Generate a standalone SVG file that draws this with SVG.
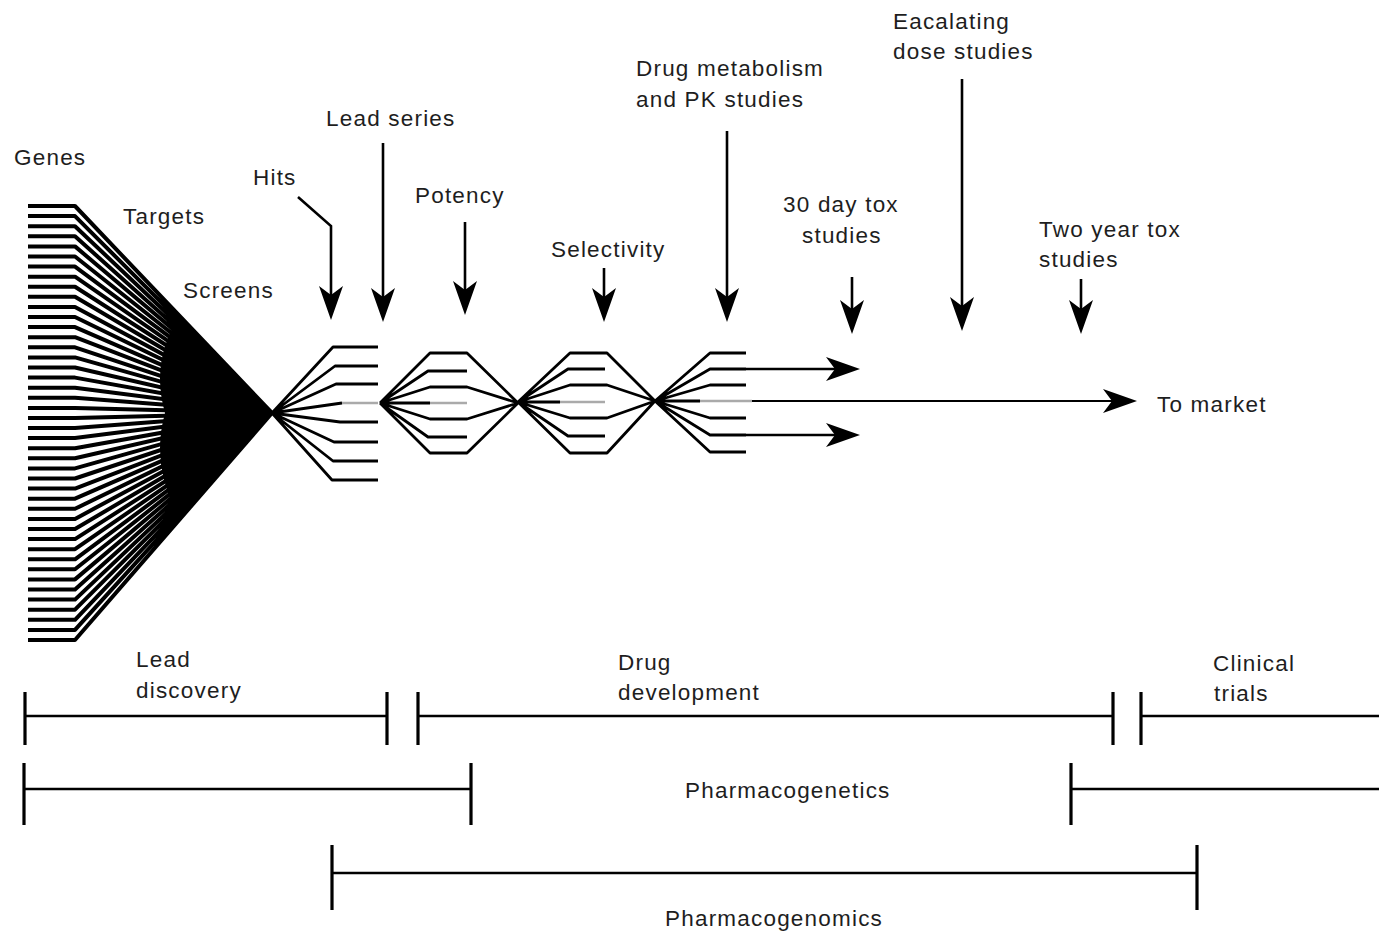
<svg xmlns="http://www.w3.org/2000/svg" width="1379" height="934" viewBox="0 0 1379 934">
<defs>
<marker id="ah" viewBox="0 0 34 24" markerUnits="userSpaceOnUse" markerWidth="34" markerHeight="24" refX="28" refY="12" orient="auto">
<path d="M0,0 L34,12 L0,24 L9,12 Z" fill="#000"/>
</marker>
</defs>
<style>
text{font-family:"Liberation Sans",Arial,sans-serif;font-size:22.5px;letter-spacing:1.2px;fill:#1e1e1e}
.fan{fill:none;stroke:#000;stroke-width:4;stroke-linejoin:round;stroke-linecap:butt}
.dia{fill:none;stroke:#000;stroke-width:2.8;stroke-linejoin:round}
.arr{fill:none;stroke:#000;stroke-width:2.6;marker-end:url(#ah)}
.bar{fill:none;stroke:#000;stroke-width:2.4}
.tick{fill:none;stroke:#000;stroke-width:3.2}
.gray{fill:none;stroke:#aaa;stroke-width:2.6}
</style>
<rect width="1379" height="934" fill="#fff"/>

<g id="funnel">
<path class="fan" d="M28,206 H75 L272,413 M28,216.1 H75 L272,413 M28,226.2 H75 L272,413 M28,236.3 H75 L272,413 M28,246.4 H75 L272,413 M28,256.5 H75 L272,413 M28,266.6 H75 L272,413 M28,276.7 H75 L272,413 M28,286.7 H75 L272,413 M28,296.8 H75 L272,413 M28,306.9 H75 L272,413 M28,317 H75 L272,413 M28,327.1 H75 L272,413 M28,337.2 H75 L272,413 M28,347.3 H75 L272,413 M28,357.4 H75 L272,413 M28,367.5 H75 L272,413 M28,377.6 H75 L272,413 M28,387.7 H75 L272,413 M28,397.8 H75 L272,413 M28,407.9 H75 L272,413 M28,418 H75 L272,413 M28,428 H75 L272,413 M28,438.1 H75 L272,413 M28,448.2 H75 L272,413 M28,458.3 H75 L272,413 M28,468.4 H75 L272,413 M28,478.5 H75 L272,413 M28,488.6 H75 L272,413 M28,498.7 H75 L272,413 M28,508.8 H75 L272,413 M28,518.9 H75 L272,413 M28,529 H75 L272,413 M28,539.1 H75 L272,413 M28,549.2 H75 L272,413 M28,559.3 H75 L272,413 M28,569.3 H75 L272,413 M28,579.4 H75 L272,413 M28,589.5 H75 L272,413 M28,599.6 H75 L272,413 M28,609.7 H75 L272,413 M28,619.8 H75 L272,413 M28,629.9 H75 L272,413 M28,640 H75 L272,413"/>
<path fill="#000" d="M272,413 L180,316 Q150,360 165,413 Q150,466 180,519 Z"/>
</g>

<g id="lead-fan">
<path class="dia" d="M272,413 L333,347 H378 M272,413 L335,366 H378 M272,413 L336,384 H378 M272,413 L342,403 M272,413 L340,422 H378 M272,413 L334,442 H378 M272,413 L333,461 H378 M272,413 L332,480 H378"/>
<path class="gray" d="M342,403 H378"/>
</g>

<g id="potency-diamond">
<path class="dia" d="M380,403 L430,353 H467 L518,403 M380,403 L428,371 H467 M380,403 L430,387 H467 L518,403 M380,403 H430 M380,403 L430,419 H467 L518,403 M380,403 L428,437 H467 M380,403 L430,453 H467 L518,403"/>
<path class="gray" d="M430,403 H467"/>
</g>

<g id="selectivity-diamond">
<path class="dia" d="M518,402 L570,353 H607 L655,401 M518,402 L568,369 H605 M518,402 L570,385 H607 L655,401 M518,402 H560 M518,402 L570,418 H607 L655,401 M518,402 L568,436 H605 M518,402 L570,453 H607 L655,401"/>
<path class="gray" d="M560,402 H605"/>
</g>

<g id="final-fan">
<path class="dia" d="M655,401 L710,353 H746 M655,401 L710,369 H746 M655,401 L710,385 H746 M655,401 L710,418 H746 M655,401 L710,435 H746 M655,401 L710,452 H746 M655,401 H700"/>
<path class="gray" d="M700,401 H752"/>
</g>

<g id="connectors">
<path class="arr" d="M746,369 H854"/>
<path class="arr" d="M746,435 H854"/>
<path class="arr" style="stroke-width:1.8" d="M752,401 H1131"/>
<path class="arr" d="M298,197 L331,226 V314"/>
<path class="arr" d="M383,143 V316"/>
<path class="arr" d="M465,222 V309"/>
<path class="arr" d="M604,268 V316"/>
<path class="arr" d="M727,131 V316"/>
<path class="arr" d="M852,277 V328"/>
<path class="arr" d="M962,79 V325"/>
<path class="arr" d="M1081,279 V328"/>
</g>

<g id="labels">
<text x="14" y="165">Genes</text>
<text x="123" y="224">Targets</text>
<text x="183" y="298">Screens</text>
<text x="253" y="185">Hits</text>
<text x="326" y="126">Lead series</text>
<text x="415" y="203">Potency</text>
<text x="551" y="257">Selectivity</text>
<text x="636" y="76">Drug metabolism</text>
<text x="636" y="107">and PK studies</text>
<text x="783" y="212">30 day tox</text>
<text x="802" y="243">studies</text>
<text x="893" y="29">Eacalating</text>
<text x="893" y="59">dose studies</text>
<text x="1039" y="237">Two year tox</text>
<text x="1039" y="267">studies</text>
<text x="1157" y="412">To market</text>
</g>

<g id="lead-discovery">
<path class="bar" d="M25,716 H387"/>
<path class="tick" d="M25,692 V745 M387,692 V745"/>
<text x="136" y="667">Lead</text>
<text x="136" y="698">discovery</text>
</g>

<g id="drug-development">
<path class="bar" d="M418,716 H1113"/>
<path class="tick" d="M418,692 V745 M1113,692 V745"/>
<text x="618" y="670">Drug</text>
<text x="618" y="700">development</text>
</g>

<g id="clinical-trials">
<path class="bar" d="M1141,716 H1379"/>
<path class="tick" d="M1141,692 V745"/>
<text x="1213" y="671">Clinical</text>
<text x="1214" y="701">trials</text>
</g>

<g id="pharmacogenetics">
<path class="bar" d="M24,789 H471 M1071,789 H1379"/>
<path class="tick" d="M24,763 V825 M471,763 V825 M1071,763 V825"/>
<text x="685" y="798">Pharmacogenetics</text>
</g>

<g id="pharmacogenomics">
<path class="bar" d="M332,873 H1197"/>
<path class="tick" d="M332,845 V910 M1197,845 V910"/>
<text x="665" y="926">Pharmacogenomics</text>
</g>
</svg>
